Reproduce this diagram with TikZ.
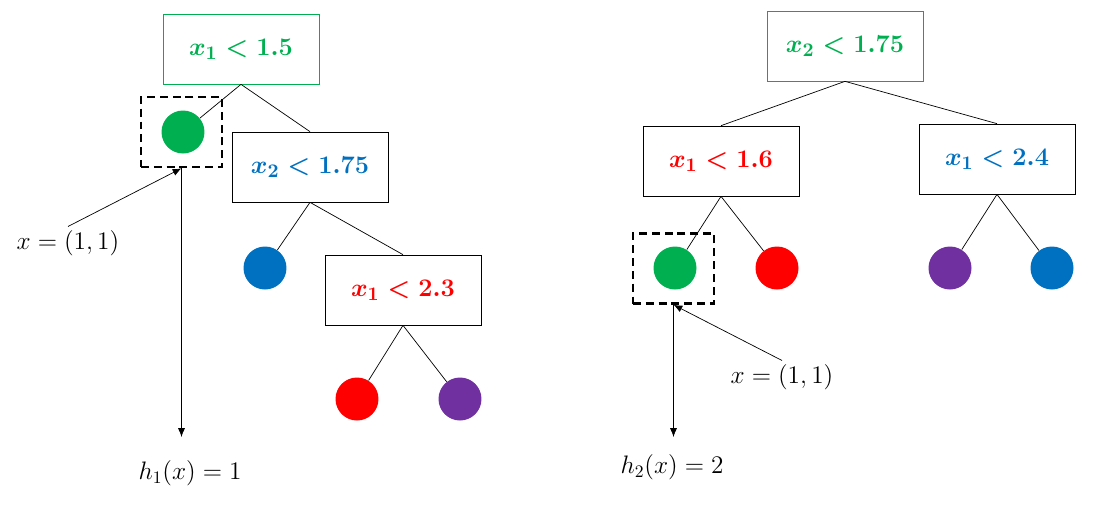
\documentclass[tikz,border=0pt]{standalone}
\usepackage{amsmath}
\usepackage{xcolor}
\usetikzlibrary{positioning, arrows.meta}

\definecolor{splitgreen}{HTML}{00B050}
\definecolor{splitblue}{HTML}{0070C0}
\definecolor{splitred}{HTML}{FF0000}
\definecolor{splitpurple}{HTML}{7030A0}

\tikzset{
  splitbox/.style={draw, rectangle, minimum width=3.12cm, minimum height=1.4cm,
    font=\boldmath\fontsize{15.5}{18}\selectfont},
  leafdot/.style={circle, fill=#1, minimum size=0.86cm, inner sep=0pt},
  hitbox/.style={draw, line width=1.5pt, dash pattern=on 4.5pt off 2.8pt,
    minimum width=1.62cm, minimum height=1.4cm},
  labeltext/.style={font=\fontsize{14}{17}\selectfont, inner sep=2pt},
  edge/.style={draw, thin},
  pointer/.style={->, >={Latex[length=5pt, width=4pt]}, thin}
}

\begin{document}
\begin{tikzpicture}[x=0.02cm, y=-0.02cm]
  \useasboundingbox (0,0) rectangle (1093,508);

  % Tree 1 (left)
  \node (rootA) [splitbox, draw=splitgreen] at (241,49) {$\color{splitgreen}x_1 < 1.5$};
  \node (leafA1) [leafdot=splitgreen] at (183,132) {};
  \node (splitA2) [splitbox] at (310,167) {$\color{splitblue}x_2 < 1.75$};
  \node (leafA2) [leafdot=splitblue] at (265,268) {};
  \node (splitA3) [splitbox] at (403,290) {$\color{splitred}x_1 < 2.3$};
  \node (leafA3) [leafdot=splitred] at (357,399) {};
  \node (leafA4) [leafdot=splitpurple] at (460,399) {};
  \draw[edge] (rootA.south) -- (leafA1);
  \draw[edge] (rootA.south) -- (splitA2.north);
  \draw[edge] (splitA2.south) -- (leafA2);
  \draw[edge] (splitA2.south) -- (splitA3.north);
  \draw[edge] (splitA3.south) -- (leafA3);
  \draw[edge] (splitA3.south) -- (leafA4);

  % query point and prediction (left)
  \node (hitA) [hitbox] at (181.5,132) {};
  \node (queryA) [labeltext] at (68,243) {$x = (1,1)$};
  \node (predA) [labeltext] at (190,473) {$h_1(x) = 1$};
  \coordinate (endA) at (181.5,437);
  \draw[pointer] (queryA.north) -- (hitA.south);
  \draw[pointer] (hitA.south) -- (endA);

  % Tree 2 (right)
  \node (rootB) [splitbox, draw=splitgreen] at (845,46) {$\color{splitgreen}x_2 < 1.75$};
  \node (splitB1) [splitbox] at (721,161) {$\color{splitred}x_1 < 1.6$};
  \node (splitB2) [splitbox] at (997,159) {$\color{splitblue}x_1 < 2.4$};
  \node (leafB1) [leafdot=splitgreen] at (675,268) {};
  \node (leafB2) [leafdot=splitred] at (777,268) {};
  \node (leafB3) [leafdot=splitpurple] at (950,268) {};
  \node (leafB4) [leafdot=splitblue] at (1052,268) {};
  \draw[edge] (rootB.south) -- (splitB1.north);
  \draw[edge] (rootB.south) -- (splitB2.north);
  \draw[edge] (splitB1.south) -- (leafB1);
  \draw[edge] (splitB1.south) -- (leafB2);
  \draw[edge] (splitB2.south) -- (leafB3);
  \draw[edge] (splitB2.south) -- (leafB4);

  % query point and prediction (right)
  \node (hitB) [hitbox] at (673.5,268.5) {};
  \node (queryB) [labeltext] at (782,377) {$x = (1,1)$};
  \node (predB) [labeltext] at (672,467) {$h_2(x) = 2$};
  \coordinate (endB) at (673.5,437);
  \draw[pointer] (queryB.north) -- (hitB.south);
  \draw[pointer] (hitB.south) -- (endB);
\end{tikzpicture}
\end{document}
